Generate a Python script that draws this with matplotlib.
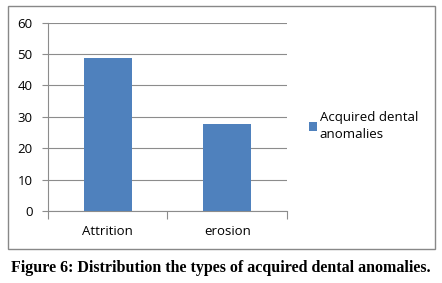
import matplotlib.pyplot as plt
from matplotlib.patches import Rectangle

categories = ['Attrition', 'erosion']
values = [48.8, 27.8]
series_name = 'Acquired dental\nanomalies'
caption = 'Figure 6: Distribution the types of acquired dental anomalies.'

plt.rcParams['font.family'] = 'Open Sans'

fig = plt.figure(figsize=(4.42, 2.83), dpi=100)

# outer chart frame
fig.patches.append(Rectangle((8 / 442, 1 - 249 / 283), 427 / 442, 243 / 283,
                             transform=fig.transFigure, fill=False,
                             edgecolor='#888888', linewidth=1.0))

ax = fig.add_axes([48 / 442, 1 - 211 / 283, 239 / 442, 188.5 / 283])
x = list(range(len(categories)))
ax.bar(x, values, width=0.4, color='#4F81BD', label=series_name, zorder=3)

ax.set_xlim(-0.5, len(categories) - 0.5)
ax.set_ylim(0, 60)
ax.set_yticks(range(0, 61, 10))
ax.yaxis.grid(True, color='#8c8c8c', linewidth=0.8)
ax.set_axisbelow(True)

ax.set_xticks(x)
ax.set_xticklabels(categories)
ax.set_xticks([-0.5, 0.5, 1.5], minor=True)
ax.tick_params(axis='x', which='major', length=0, pad=10, labelsize=9.5)
ax.tick_params(axis='x', which='minor', length=6, color='#8c8c8c', width=0.8)
ax.tick_params(axis='y', length=4, color='#8c8c8c', width=0.8, pad=7, labelsize=9.5)

for s in ['top', 'right']:
    ax.spines[s].set_visible(False)
for s in ['left', 'bottom']:
    ax.spines[s].set_color('#8c8c8c')
    ax.spines[s].set_linewidth(0.8)

leg = ax.legend(loc='center left', bbox_to_anchor=(1.07, 0.45), frameon=False,
                fontsize=9.5, handlelength=0.6, handleheight=0.6, handletextpad=0.2,
                borderaxespad=0)
for t in leg.get_texts():
    t.set_linespacing(1.45)

fig.text(0.5, 1 - 268 / 283, caption, ha='center', va='center',
         fontsize=11.5, fontweight='bold', family='Liberation Serif')

fig.savefig('out.png', dpi=100)
